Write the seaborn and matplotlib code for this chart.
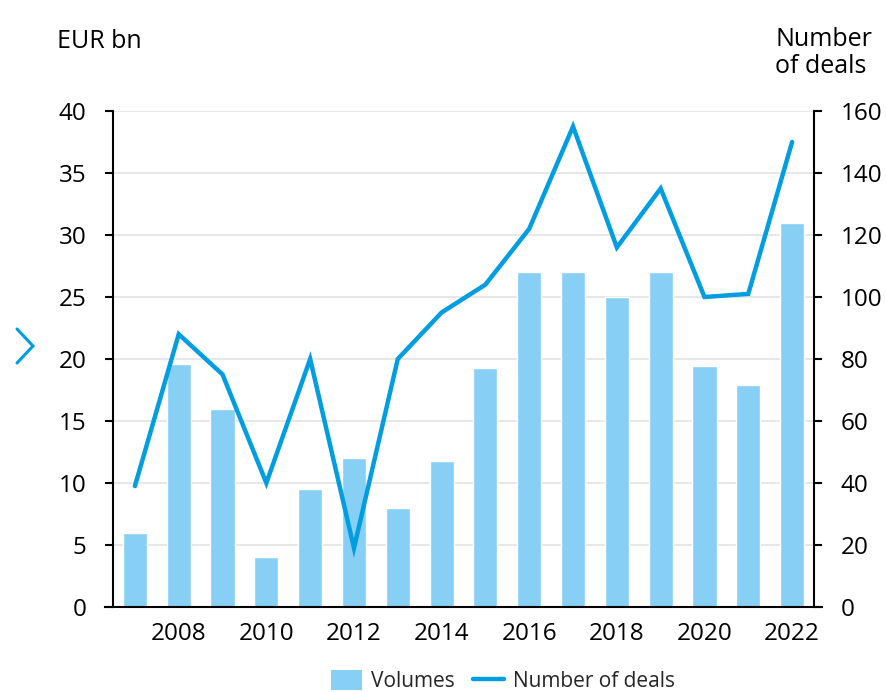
import matplotlib
matplotlib.use("Agg")
import matplotlib.pyplot as plt
from matplotlib.lines import Line2D
from matplotlib.patches import Patch
import numpy as np
import pandas as pd
import seaborn as sns

years = [2007, 2008, 2009, 2010, 2011, 2012, 2013, 2014,
         2015, 2016, 2017, 2018, 2019, 2020, 2021, 2022]
volumes = [6.0, 19.6, 16.0, 4.0, 9.5, 12.0, 8.0, 11.8,
           19.3, 27.0, 27.0, 25.0, 27.0, 19.4, 17.9, 31.0]
deals = [39, 88, 75, 40, 80, 19, 80, 95,
         104, 122, 155, 116, 135, 100, 101, 150]
year_ticks = [2008, 2010, 2012, 2014, 2016, 2018, 2020, 2022]
left_ticks = [0, 5, 10, 15, 20, 25, 30, 35, 40]
right_ticks = [0, 20, 40, 60, 80, 100, 120, 140, 160]

BAR_COLOR = "#87CFF5"
LINE_COLOR = "#009EE0"
TICK_FS = 17.5
HEAD_FS = 18
LEG_FS = 15

df = pd.DataFrame({"year": years, "volume": volumes, "deals": deals})

sns.set_theme(style="white")
plt.rcParams["font.family"] = ["Open Sans", "DejaVu Sans"]

fig = plt.figure(figsize=(8.86, 6.92), dpi=100)
ax = fig.add_axes([113 / 886, 1 - 607 / 692, (814 - 113) / 886, (607 - 111) / 692])

sns.barplot(data=df, x="year", y="volume", native_scale=True, width=0.55,
            color=BAR_COLOR, saturation=1, ax=ax, zorder=2)
ax.set_xlim(2006.5, 2022.5)
ax.set_ylim(0, 40)
ax.set_yticks(left_ticks)
ax.set_xticks(year_ticks)
ax.set_xticklabels([str(y) for y in year_ticks])
ax.set_xlabel("")
ax.set_ylabel("")
ax.yaxis.grid(True, color="#e5e5e5", linewidth=1.3)
ax.xaxis.grid(False)
ax.set_axisbelow(True)

ax2 = ax.twinx()
sns.lineplot(data=df, x="year", y="deals", color=LINE_COLOR, linewidth=3.2,
             ax=ax2, solid_capstyle="round", solid_joinstyle="miter")
ax2.set_ylim(0, 160)
ax2.set_yticks(right_ticks)
ax2.set_ylabel("")
ax2.set_xlabel("")

for a in (ax, ax2):
    a.spines["top"].set_visible(False)
    for side in ("left", "right", "bottom"):
        a.spines[side].set_color("black")
        a.spines[side].set_linewidth(1.5)
ax.spines["right"].set_visible(False)
ax2.spines["left"].set_visible(False)
ax2.spines["bottom"].set_visible(False)
ax.spines["bottom"].set_bounds(2006.5 - 0.18, 2022.5 + 0.18)

ax.tick_params(axis="y", which="both", left=True, length=6, width=1.5,
               color="black", pad=13, labelsize=TICK_FS, labelcolor="black")
ax.tick_params(axis="x", bottom=False, length=0, pad=11, labelsize=TICK_FS,
               labelcolor="black")
ax2.tick_params(axis="y", right=True, length=6, width=1.5, color="black",
                pad=13, labelsize=TICK_FS, labelcolor="black")

fig.text(57 / 886, 1 - 29 / 692, "EUR bn", ha="left", va="top",
         fontsize=HEAD_FS, color="black")
fig.text(775 / 886, 1 - 27 / 692, "Number\nof deals", ha="left", va="top",
         multialignment="left", fontsize=HEAD_FS, color="black",
         linespacing=1.13)

handles = [Patch(facecolor=BAR_COLOR, edgecolor="none"),
           Line2D([], [], color=LINE_COLOR, linewidth=3.2, solid_capstyle="round")]
fig.legend(handles, ["Volumes", "Number of deals"], loc="center",
           bbox_to_anchor=(503 / 886, 1 - 681 / 692), ncol=2, frameon=False,
           fontsize=LEG_FS, handlelength=1.5, handleheight=1.1,
           handletextpad=0.45, columnspacing=0.85, borderpad=0)

# navigation chevron at the left edge
fig.add_artist(Line2D([17 / 886, 33 / 886, 17 / 886],
                      [1 - 329 / 692, 1 - 346 / 692, 1 - 363 / 692],
                      color=LINE_COLOR, linewidth=2.2,
                      transform=fig.transFigure, solid_joinstyle="miter"))

fig.savefig("out.png", dpi=100)
